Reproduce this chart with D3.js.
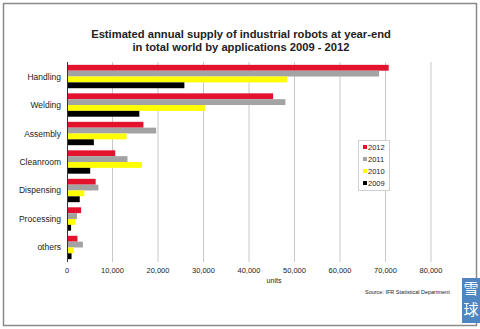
<!DOCTYPE html>
<html>
<head>
<meta charset="utf-8">
<script src="https://cdn.jsdelivr.net/npm/d3@7"></script>
<style>
  body { margin: 0; background: #fff; }
  svg { display: block; font-family: "Liberation Sans", Arial, sans-serif; }
</style>
</head>
<body>
<div id="chart"></div>
<script>
// data
const categories = ["Handling", "Welding", "Assembly", "Cleanroom", "Dispensing", "Processing", "others"];
const years = ["2012", "2011", "2010", "2009"];
const values2012 = [70700, 45300, 16800, 10600, 6300, 3100, 2300];
const values2011 = [68600, 48000, 19600, 13300, 6900, 2200, 3500];
const values2010 = [48400, 30300, 13100, 16500, 3800, 1800, 1500];
const values2009 = [25800, 15900, 5900, 5100, 2800, 900, 1000];
const xTicks = [0, 10000, 20000, 30000, 40000, 50000, 60000, 70000, 80000];

const seriesValues = [values2012, values2011, values2010, values2009];
const colors = ["#e3122d", "#a3a3a3", "#ffff00", "#000000"];

const width = 480, height = 329;
const margin = {top: 62, bottom: 67, left: 67, right: 49};

const svg = d3.select("#chart").append("svg")
    .attr("width", width)
    .attr("height", height);

// outer frame
svg.append("rect")
    .attr("x", 3.5).attr("y", 3.5)
    .attr("width", 473).attr("height", 322)
    .attr("fill", "#fff")
    .attr("stroke", "#8a8a8a")
    .attr("stroke-width", 1.5);

// title
svg.append("text")
    .attr("x", 241).attr("y", 38)
    .attr("text-anchor", "middle")
    .attr("font-size", 11.2).attr("font-weight", "bold").attr("fill", "#222")
    .text("Estimated annual supply of industrial robots at year-end");
svg.append("text")
    .attr("x", 241).attr("y", 51)
    .attr("text-anchor", "middle")
    .attr("font-size", 11.2).attr("font-weight", "bold").attr("fill", "#222")
    .text("in total world by applications 2009 - 2012");

const x = d3.scaleLinear()
    .domain([0, 80000])
    .range([margin.left, 431]);

const y = d3.scaleBand()
    .domain(categories)
    .range([margin.top, height - margin.bottom])
    .paddingInner(0.18)
    .paddingOuter(0.1);

const ySub = d3.scaleBand()
    .domain(years)
    .range([0, y.bandwidth()]);

// grid lines
svg.append("g")
    .selectAll("line")
    .data(xTicks.slice(1))
    .join("line")
    .attr("x1", d => x(d)).attr("x2", d => x(d))
    .attr("y1", margin.top).attr("y2", height - margin.bottom)
    .attr("stroke", "#c8c8c8")
    .attr("stroke-width", 1);

// bars
const groups = svg.append("g")
    .selectAll("g")
    .data(years)
    .join("g")
    .attr("fill", (d, i) => colors[i]);

groups.selectAll("rect")
    .data((yr, i) => seriesValues[i].map((v, j) => ({yr, cat: categories[j], v})))
    .join("rect")
    .attr("x", x(0))
    .attr("y", d => y(d.cat) + ySub(d.yr))
    .attr("width", d => x(d.v) - x(0))
    .attr("height", ySub.bandwidth());

// vertical axis line
svg.append("line")
    .attr("x1", x(0) + 0.5).attr("x2", x(0) + 0.5)
    .attr("y1", margin.top).attr("y2", height - margin.bottom)
    .attr("stroke", "#333");

// category labels
svg.append("g")
    .selectAll("text")
    .data(categories)
    .join("text")
    .attr("x", 61)
    .attr("y", d => y(d) + y.bandwidth() / 2)
    .attr("text-anchor", "end")
    .attr("dominant-baseline", "central")
    .attr("font-size", 8.5).attr("fill", "#222")
    .text(d => d);

// x tick labels
svg.append("g")
    .selectAll("text")
    .data(xTicks)
    .join("text")
    .attr("x", d => x(d))
    .attr("y", 273)
    .attr("text-anchor", "middle")
    .attr("font-size", 7.5).attr("fill", "#222")
    .text(d => d3.format(",")(d));

svg.append("text")
    .attr("x", 274).attr("y", 283)
    .attr("text-anchor", "middle")
    .attr("font-size", 7).attr("fill", "#222")
    .text("units");

svg.append("text")
    .attr("x", 365).attr("y", 294)
    .attr("font-size", 5.5).attr("fill", "#222")
    .text("Source: IFR Statistical Department");

// legend
const legend = svg.append("g").attr("transform", "translate(358 140)");
legend.append("rect")
    .attr("x", 0.5).attr("y", 0.5)
    .attr("width", 31).attr("height", 50)
    .attr("fill", "#fff").attr("stroke", "#d0d0d0");
legend.selectAll("rect.sw")
    .data(years)
    .join("rect")
    .attr("class", "sw")
    .attr("x", 5)
    .attr("y", (d, i) => 5 + i * 12)
    .attr("width", 4).attr("height", 4)
    .attr("fill", (d, i) => colors[i]);
legend.selectAll("text")
    .data(years)
    .join("text")
    .attr("x", 10)
    .attr("y", (d, i) => 7 + i * 12)
    .attr("dominant-baseline", "central")
    .attr("font-size", 7.5).attr("fill", "#222")
    .text(d => d);

// watermark badge
const badge = svg.append("g").attr("transform", "translate(462 278)");
badge.append("rect")
    .attr("width", 18).attr("height", 45)
    .attr("fill", "#4d86c0");
badge.selectAll("text")
    .data(["雪", "球"])
    .join("text")
    .attr("x", 9)
    .attr("y", (d, i) => 16 + i * 21)
    .attr("text-anchor", "middle")
    .attr("font-family", "Noto Sans CJK SC")
    .attr("font-size", 15).attr("fill", "#fff")
    .text(d => d);
</script>
</body>
</html>
